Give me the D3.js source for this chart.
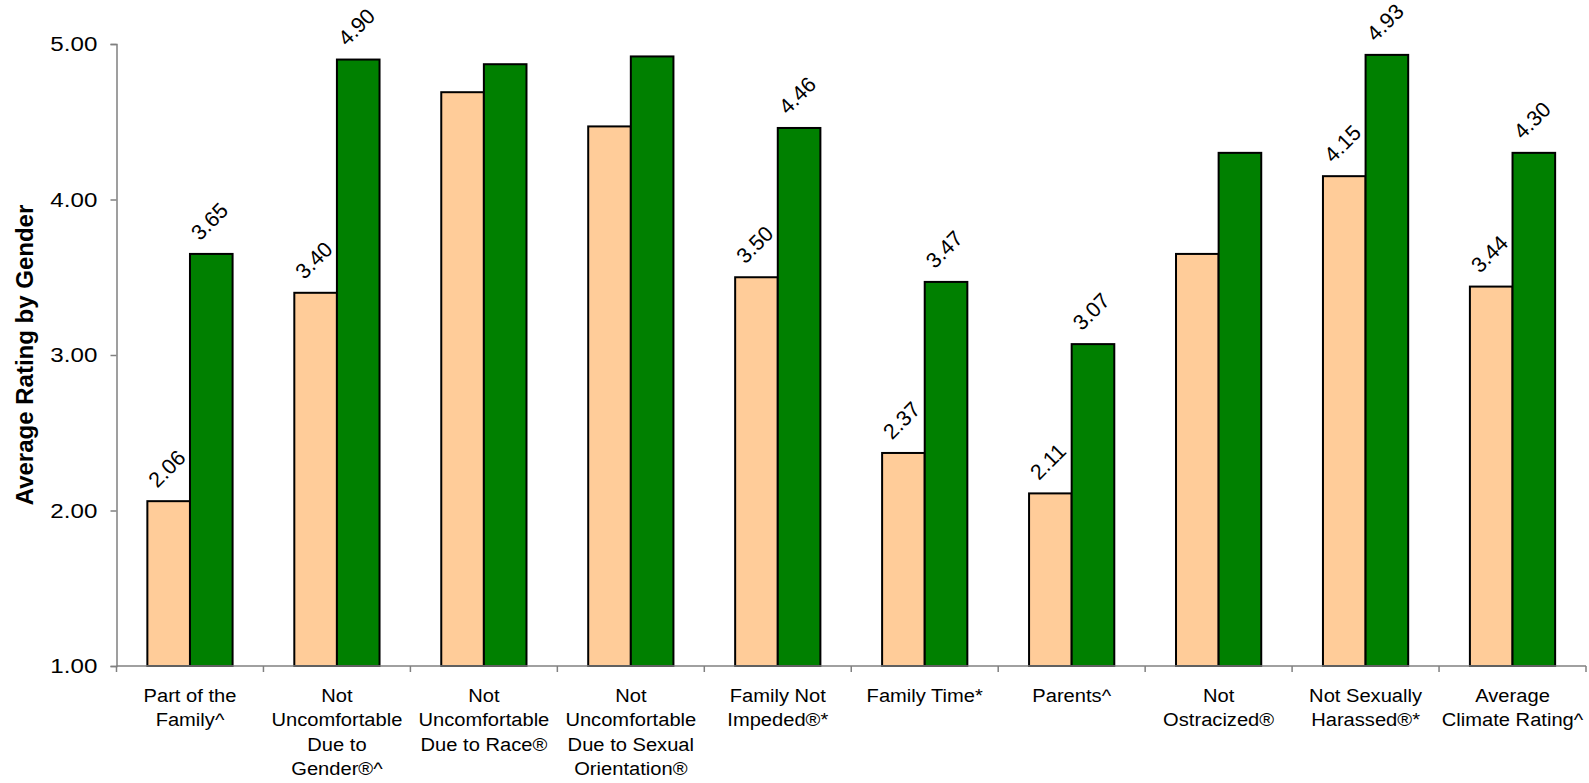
<!DOCTYPE html>
<html>
<head>
<meta charset="utf-8">
<script src="https://cdn.jsdelivr.net/npm/d3@7"></script>
<style>
  html, body { margin: 0; padding: 0; background: #fff; }
  svg { display: block; font-family: "Liberation Sans", Arial, sans-serif; }
</style>
</head>
<body>
<svg id="chart" width="1589" height="783"></svg>
<script>
// Survey categories (label lines) and average ratings for the two groups
const categories = [
  ["Part of the", "Family^"],
  ["Not", "Uncomfortable", "Due to", "Gender®^"],
  ["Not", "Uncomfortable", "Due to Race®"],
  ["Not", "Uncomfortable", "Due to Sexual", "Orientation®"],
  ["Family Not", "Impeded®*"],
  ["Family Time*"],
  ["Parents^"],
  ["Not", "Ostracized®"],
  ["Not Sexually", "Harassed®*"],
  ["Average", "Climate Rating^"]
];
const seriesA = [2.06, 3.40, 4.69, 4.47, 3.50, 2.37, 2.11, 3.65, 4.15, 3.44];
const seriesB = [3.65, 4.90, 4.87, 4.92, 4.46, 3.47, 3.07, 4.30, 4.93, 4.30];
// categories whose bars carry a value label
const labeled = [true, true, false, false, true, true, true, false, true, true];
const yTicks = [1, 2, 3, 4, 5];
const yTitle = "Average Rating by Gender";

const svg = d3.select("#chart");
const plotLeft = 116.5, plotRight = 1586, plotTop = 44, plotBottom = 666;
const tickStretch = 1.15; // slightly wide lettering for axis text
const catStretch = 1.06;

const x = d3.scaleBand()
  .domain(d3.range(categories.length))
  .range([plotLeft, plotRight])
  .paddingInner(0.42)
  .paddingOuter(0.21);
const xs = d3.scaleBand().domain(["a", "b"]).range([0, x.bandwidth()]);
const y = d3.scaleLinear().domain([1, 5]).range([plotBottom, plotTop]);

const fills = { a: "#FFCC99", b: "#008000" };

const rows = categories.map((c, i) => ({ i, a: seriesA[i], b: seriesB[i], lab: labeled[i] }));

// bars
const g = svg.append("g");
rows.forEach(r => {
  ["a", "b"].forEach(k => {
    const bx = x(r.i) + xs(k);
    g.append("rect")
      .attr("x", bx)
      .attr("y", y(r[k]))
      .attr("width", xs.bandwidth())
      .attr("height", y(1) - y(r[k]))
      .attr("fill", fills[k])
      .attr("stroke", "#000")
      .attr("stroke-width", 2);
    if (r.lab) {
      const tx = bx + 10, ty = y(r[k]) - 12.5;
      g.append("text")
        .attr("transform", `translate(${tx},${ty}) rotate(-45)`)
        .attr("font-size", 21.5)
        .attr("fill", "#000")
        .text(r[k].toFixed(2));
    }
  });
});

// y axis
const yAxis = d3.axisLeft(y).tickValues(yTicks).tickFormat(d3.format(".2f")).tickSize(6).tickPadding(10.7);
const ya = svg.append("g").attr("transform", `translate(${plotLeft},0)`).call(yAxis);
ya.select(".domain").attr("stroke", "#808080").attr("stroke-width", 1.5);
ya.selectAll(".tick line").attr("stroke", "#808080").attr("stroke-width", 1.5);
ya.selectAll(".tick text").attr("font-size", 21).attr("fill", "#000")
  .attr("font-family", "Liberation Sans, Arial, sans-serif")
  .attr("transform", `scale(${tickStretch},1)`);

// x axis baseline and category boundary ticks
const xa = svg.append("g");
xa.append("line")
  .attr("x1", plotLeft).attr("x2", plotRight)
  .attr("y1", y(1)).attr("y2", y(1))
  .attr("stroke", "#808080").attr("stroke-width", 1.5);
const step = x.step();
d3.range(categories.length + 1).forEach(k => {
  const px = plotLeft + k * step;
  xa.append("line")
    .attr("x1", px).attr("x2", px)
    .attr("y1", y(1)).attr("y2", y(1) + 6)
    .attr("stroke", "#808080").attr("stroke-width", 1.5);
});

// category labels
rows.forEach(r => {
  const cx = x(r.i) + x.bandwidth() / 2;
  const t = xa.append("text")
    .attr("transform", `translate(${cx},0) scale(${catStretch},1)`)
    .attr("text-anchor", "middle")
    .attr("font-size", 19)
    .attr("fill", "#000");
  categories[r.i].forEach((line, j) => {
    t.append("tspan").attr("x", 0).attr("y", 702 + j * 24.5).text(line);
  });
});

// y title
svg.append("text")
  .attr("transform", `translate(32.5,355) rotate(-90)`)
  .attr("text-anchor", "middle")
  .attr("font-size", 24)
  .attr("font-weight", "bold")
  .attr("fill", "#000")
  .text(yTitle);
</script>
</body>
</html>
